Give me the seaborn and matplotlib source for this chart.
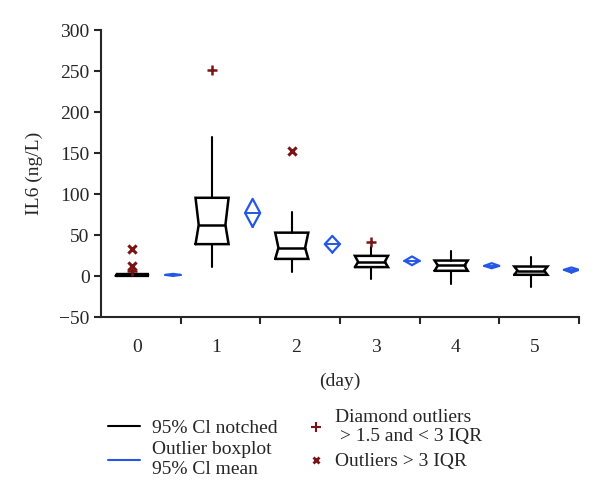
import matplotlib
matplotlib.use("Agg")
import matplotlib.pyplot as plt
from matplotlib.lines import Line2D
import pandas as pd
import seaborn as sns

# IL6 per day
days = [0, 1, 2, 3, 4, 5]
q1 = [0.3, 39, 21, 11, 6.5, 1.6]
med = [1.2, 62.5, 34.5, 17.4, 13, 6.8]
q3 = [2.5, 95.5, 53, 24.7, 19, 11.7]
whislo = [0, 11.7, 5, -3.7, -9.8, -13.4]
whishi = [5, 170, 78.7, 36, 30.8, 23]
mean = [1.5, 77, 39, 18.6, 12.5, 7.7]
mean_lo = [0.3, 60, 28.8, 13.4, 9.7, 4.4]
mean_hi = [2.7, 94.2, 49, 24, 15.8, 10.5]

# outliers: (day, value)
mild_day = [0, 1, 3]
mild_val = [6, 251, 41.4]
extreme_day = [0, 0, 2]
extreme_val = [12, 33, 153]

sns.set_style("ticks")
plt.rcParams['font.family'] = ['Liberation Serif', 'DejaVu Serif']

BLACK = "black"
BLUE = "#2457e6"
RED = "#7a1414"
FS = 14

box_off, box_w, notch = -0.104, 0.415, 0.04
dia_off, dia_w = 0.405, 0.095

fig = plt.figure(figsize=(6, 5.01), dpi=100)
ax = fig.add_axes([0.168, 0.367, 0.797, 0.573])

for i, d in enumerate(days):
    c = d + box_off
    w = box_w / 2
    n = w - notch
    ax.plot([c - w, c + w, c + n, c + w, c - w, c - n, c - w],
            [q1[i], q1[i], med[i], q3[i], q3[i], med[i], q1[i]],
            color=BLACK, lw=1.8, solid_joinstyle="miter")
    ax.plot([c - n, c + n], [med[i], med[i]], color=BLACK, lw=1.8)
    ax.plot([c, c], [q3[i], whishi[i]], color=BLACK, lw=1.5)
    ax.plot([c, c], [q1[i], whislo[i]], color=BLACK, lw=1.5)

    m = d + dia_off
    ax.plot([m, m + dia_w, m, m - dia_w, m],
            [mean_lo[i], mean[i], mean_hi[i], mean[i], mean_lo[i]],
            color=BLUE, lw=1.6)
    ax.plot([m - dia_w, m + dia_w], [mean[i], mean[i]], color=BLUE, lw=1.4)

mild = pd.DataFrame({"x": [d + box_off for d in mild_day], "y": mild_val})
extreme = pd.DataFrame({"x": [d + box_off for d in extreme_day], "y": extreme_val})
sns.scatterplot(data=mild, x="x", y="y", marker="+", s=45, color=RED,
                linewidth=1.8, ax=ax, zorder=3)
sns.scatterplot(data=extreme, x="x", y="y", marker="x", s=35, color=RED,
                linewidth=2.2, ax=ax, zorder=3)

ax.set_xlim(-0.5, 5.5)
ax.set_ylim(-50, 300)
ax.set_yticks(range(-50, 301, 50))
ax.set_yticklabels(["\u221250" if v < 0 else str(v) for v in range(-50, 301, 50)])
ax.set_xticks([d - 0.05 for d in days])
ax.set_xticklabels([str(d) for d in days])
ax.set_xticks([d + 0.5 for d in days], minor=True)
ax.tick_params(axis="x", which="major", length=0, pad=16, labelsize=FS)
ax.tick_params(axis="x", which="minor", length=5, width=1.5, direction="out")
ax.tick_params(axis="y", length=5, width=1.5, direction="out", labelsize=FS,
               pad=3)
sns.despine(ax=ax)
for s in ["left", "bottom"]:
    ax.spines[s].set_linewidth(1.5)
ax.set_xlabel("(day)", fontsize=FS, labelpad=12)
ax.set_ylabel("IL6 (ng/L)", fontsize=FS, labelpad=12)

handles1 = [Line2D([], [], color=BLACK, lw=1.5),
            Line2D([], [], color=BLUE, lw=1.5)]
fig.legend(handles1, ["95% Cl notched", "Outlier boxplot\n95% Cl mean"],
           loc="upper left", bbox_to_anchor=(0.167, 0.178), frameon=False,
           fontsize=FS, handlelength=1.65, labelspacing=0.25,
           handletextpad=0.62, borderaxespad=0, handleheight=0.5)
handles2 = [Line2D([], [], color=RED, marker="+", ls="", ms=7, mew=1.5),
            Line2D([], [], color=RED, marker="x", ls="", ms=5, mew=2)]
fig.legend(handles2, ["Diamond outliers\n > 1.5 and < 3 IQR", "Outliers > 3 IQR"],
           loc="upper left", bbox_to_anchor=(0.5, 0.2), frameon=False,
           fontsize=FS, handlelength=0.8, labelspacing=0.4,
           handletextpad=0.6, borderaxespad=0, handleheight=0.5)

fig.savefig("out.png", dpi=100)
